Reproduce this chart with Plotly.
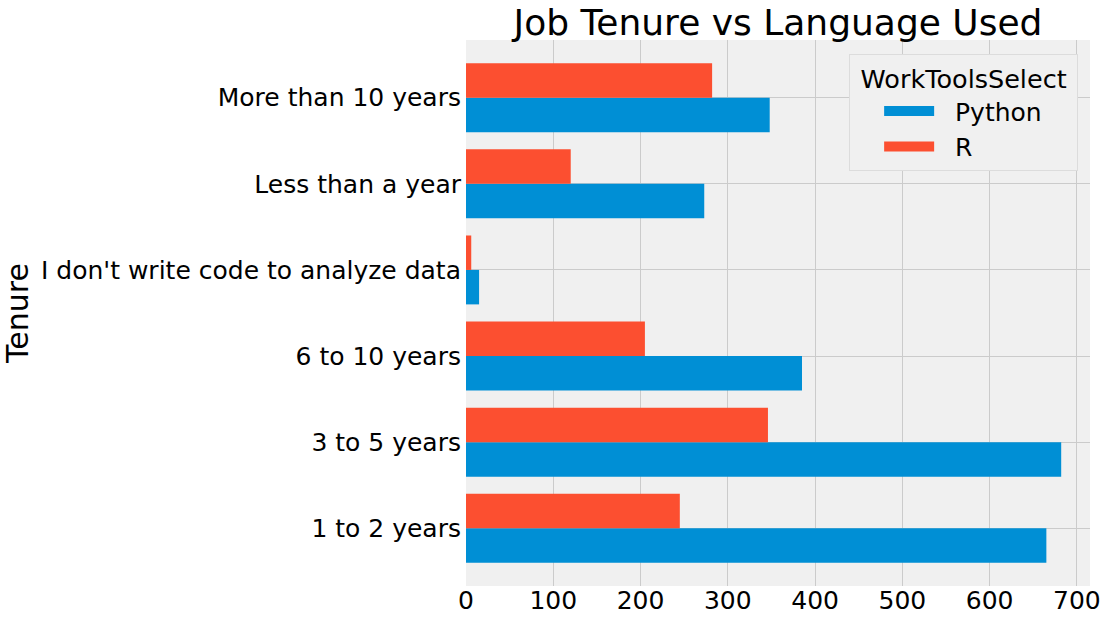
import plotly.graph_objects as go

categories = ["1 to 2 years", "3 to 5 years", "6 to 10 years",
              "I don't write code to analyze data", "Less than a year",
              "More than 10 years"]
python_counts = [665, 682, 385, 15, 273, 348]
r_counts = [245, 346, 205, 6, 120, 282]
x_ticks = [0, 100, 200, 300, 400, 500, 600, 700]
series_names = ["Python", "R"]
legend_title = "WorkToolsSelect"

PY_COLOR = "#008fd5"
R_COLOR = "#fc4f30"
FONT = "DejaVu Sans"
PAD = "\u00a0\u00a0"

fig = go.Figure()
fig.add_trace(go.Bar(y=categories, x=python_counts, orientation="h",
                     width=0.4, offset=-0.4, marker=dict(color=PY_COLOR, line=dict(width=0)),
                     name=series_names[0], showlegend=False))
fig.add_trace(go.Bar(y=categories, x=r_counts, orientation="h",
                     width=0.4, offset=0.0, marker=dict(color=R_COLOR, line=dict(width=0)),
                     name=series_names[1], showlegend=False))
# legend entries (wide patches)
fig.add_trace(go.Scatter(x=[None], y=[None], mode="lines", name=PAD + series_names[0],
                         line=dict(color=PY_COLOR, width=18)))
fig.add_trace(go.Scatter(x=[None], y=[None], mode="lines", name=PAD + series_names[1],
                         line=dict(color=R_COLOR, width=18)))

fig.update_layout(
    width=1106, height=619,
    margin=dict(l=466, r=16, t=40, b=33),
    paper_bgcolor="white", plot_bgcolor="#f0f0f0",
    barmode="overlay",
    font=dict(family=FONT, size=25, color="black"),
    title=dict(text="Job Tenure vs Language Used", font=dict(size=36, color="black"),
               x=0.5, xref="paper", xanchor="center", y=1 - 22 / 619, yanchor="middle"),
    xaxis=dict(range=[0, 715], tickvals=x_ticks, showgrid=True, gridcolor="#cbcbcb",
               gridwidth=1, zeroline=False, showline=False, ticks="",
               tickfont=dict(size=25), automargin=False,
               anchor="free", position=0.006),
    yaxis=dict(type="category", categoryorder="array", categoryarray=categories,
               range=[-0.67, 5.67], showgrid=True, gridcolor="#cbcbcb", gridwidth=1,
               zeroline=False, showline=False, ticks="", tickfont=dict(size=25),
               automargin=False, ticklabelstandoff=4,
               title=dict(text="Tenure", font=dict(size=30), standoff=8)),
    legend=dict(x=0.981, xanchor="right", y=0.974, yanchor="top",
                bgcolor="#f0f0f0", bordercolor="#dcdcdc", borderwidth=1,
                font=dict(size=25), traceorder="normal", itemwidth=50,
                indentation=29,
                title=dict(text="\u00a0" + legend_title + "\u00a0", side="top center",
                           font=dict(size=25.5))),
)

fig.write_html("out.html")
